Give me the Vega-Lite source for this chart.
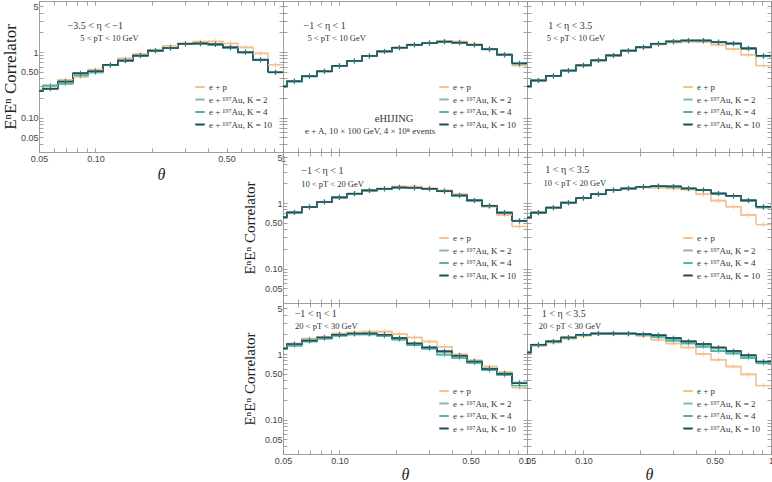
{
  "$schema": "https://vega.github.io/schema/vega-lite/v6.json",
  "padding": {"left": 0, "top": 0, "right": 0, "bottom": 0},
  "autosize": {"type": "pad"},
  "background": "white",
  "datasets": {
    "bins": [
      {"b": 0, "lo": 0.04365, "hi": 0.05248, "c": 0.04786},
      {"b": 1, "lo": 0.05248, "hi": 0.0631, "c": 0.05754},
      {"b": 2, "lo": 0.0631, "hi": 0.07586, "c": 0.06918},
      {"b": 3, "lo": 0.07586, "hi": 0.0912, "c": 0.08318},
      {"b": 4, "lo": 0.0912, "hi": 0.10965, "c": 0.1},
      {"b": 5, "lo": 0.10965, "hi": 0.13183, "c": 0.12023},
      {"b": 6, "lo": 0.13183, "hi": 0.15849, "c": 0.14454},
      {"b": 7, "lo": 0.15849, "hi": 0.19055, "c": 0.17378},
      {"b": 8, "lo": 0.19055, "hi": 0.22909, "c": 0.20893},
      {"b": 9, "lo": 0.22909, "hi": 0.27542, "c": 0.25119},
      {"b": 10, "lo": 0.27542, "hi": 0.33113, "c": 0.302},
      {"b": 11, "lo": 0.33113, "hi": 0.39811, "c": 0.36308},
      {"b": 12, "lo": 0.39811, "hi": 0.47863, "c": 0.43652},
      {"b": 13, "lo": 0.47863, "hi": 0.57544, "c": 0.52481},
      {"b": 14, "lo": 0.57544, "hi": 0.69183, "c": 0.63096},
      {"b": 15, "lo": 0.69183, "hi": 0.83176, "c": 0.75858},
      {"b": 16, "lo": 0.83176, "hi": 1.0, "c": 0.91201}
    ],
    "hist": [
      {"p": "a", "b": 0, "ep": 0.26, "k2": 0.26, "k4": 0.26, "k10": 0.254},
      {"p": "a", "b": 1, "ep": 0.31, "k2": 0.30, "k4": 0.31, "k10": 0.276},
      {"p": "a", "b": 2, "ep": 0.378, "k2": 0.34, "k4": 0.33, "k10": 0.356},
      {"p": "a", "b": 3, "ep": 0.42, "k2": 0.45, "k4": 0.44, "k10": 0.476},
      {"p": "a", "b": 4, "ep": 0.54, "k2": 0.50, "k4": 0.49, "k10": 0.51},
      {"p": "a", "b": 5, "ep": 0.64, "k2": 0.63, "k4": 0.63, "k10": 0.638},
      {"p": "a", "b": 6, "ep": 0.80, "k2": 0.74, "k4": 0.74, "k10": 0.741},
      {"p": "a", "b": 7, "ep": 0.935, "k2": 0.89, "k4": 0.88, "k10": 0.882},
      {"p": "a", "b": 8, "ep": 1.076, "k2": 1.06, "k4": 1.05, "k10": 1.05},
      {"p": "a", "b": 9, "ep": 1.25, "k2": 1.16, "k4": 1.15, "k10": 1.153},
      {"p": "a", "b": 10, "ep": 1.37, "k2": 1.32, "k4": 1.33, "k10": 1.33},
      {"p": "a", "b": 11, "ep": 1.44, "k2": 1.34, "k4": 1.33, "k10": 1.355},
      {"p": "a", "b": 12, "ep": 1.45, "k2": 1.31, "k4": 1.30, "k10": 1.31},
      {"p": "a", "b": 13, "ep": 1.35, "k2": 1.16, "k4": 1.15, "k10": 1.18},
      {"p": "a", "b": 14, "ep": 1.18, "k2": 1.0, "k4": 1.01, "k10": 0.99},
      {"p": "a", "b": 15, "ep": 0.955, "k2": 0.77, "k4": 0.76, "k10": 0.76},
      {"p": "a", "b": 16, "ep": 0.64, "k2": 0.49, "k4": 0.49, "k10": 0.493},
      {"p": "b", "b": 0, "ep": 0.30, "k2": 0.30, "k4": 0.30, "k10": 0.30},
      {"p": "b", "b": 1, "ep": 0.36, "k2": 0.36, "k4": 0.355, "k10": 0.36},
      {"p": "b", "b": 2, "ep": 0.43, "k2": 0.43, "k4": 0.425, "k10": 0.43},
      {"p": "b", "b": 3, "ep": 0.51, "k2": 0.51, "k4": 0.505, "k10": 0.51},
      {"p": "b", "b": 4, "ep": 0.62, "k2": 0.615, "k4": 0.61, "k10": 0.616},
      {"p": "b", "b": 5, "ep": 0.73, "k2": 0.73, "k4": 0.725, "k10": 0.733},
      {"p": "b", "b": 6, "ep": 0.87, "k2": 0.87, "k4": 0.865, "k10": 0.873},
      {"p": "b", "b": 7, "ep": 1.02, "k2": 1.02, "k4": 1.02, "k10": 1.025},
      {"p": "b", "b": 8, "ep": 1.17, "k2": 1.165, "k4": 1.16, "k10": 1.166},
      {"p": "b", "b": 9, "ep": 1.30, "k2": 1.29, "k4": 1.28, "k10": 1.29},
      {"p": "b", "b": 10, "ep": 1.39, "k2": 1.37, "k4": 1.37, "k10": 1.37},
      {"p": "b", "b": 11, "ep": 1.47, "k2": 1.44, "k4": 1.43, "k10": 1.44},
      {"p": "b", "b": 12, "ep": 1.44, "k2": 1.40, "k4": 1.39, "k10": 1.39},
      {"p": "b", "b": 13, "ep": 1.31, "k2": 1.29, "k4": 1.28, "k10": 1.29},
      {"p": "b", "b": 14, "ep": 1.12, "k2": 1.11, "k4": 1.10, "k10": 1.11},
      {"p": "b", "b": 15, "ep": 0.92, "k2": 0.91, "k4": 0.90, "k10": 0.913},
      {"p": "b", "b": 16, "ep": 0.62, "k2": 0.67, "k4": 0.66, "k10": 0.675},
      {"p": "c", "b": 0, "ep": 0.30, "k2": 0.30, "k4": 0.30, "k10": 0.30},
      {"p": "c", "b": 1, "ep": 0.37, "k2": 0.37, "k4": 0.37, "k10": 0.369},
      {"p": "c", "b": 2, "ep": 0.43, "k2": 0.434, "k4": 0.43, "k10": 0.434},
      {"p": "c", "b": 3, "ep": 0.52, "k2": 0.52, "k4": 0.52, "k10": 0.523},
      {"p": "c", "b": 4, "ep": 0.62, "k2": 0.63, "k4": 0.625, "k10": 0.629},
      {"p": "c", "b": 5, "ep": 0.74, "k2": 0.75, "k4": 0.745, "k10": 0.749},
      {"p": "c", "b": 6, "ep": 0.88, "k2": 0.89, "k4": 0.885, "k10": 0.89},
      {"p": "c", "b": 7, "ep": 1.03, "k2": 1.05, "k4": 1.04, "k10": 1.05},
      {"p": "c", "b": 8, "ep": 1.17, "k2": 1.19, "k4": 1.18, "k10": 1.19},
      {"p": "c", "b": 9, "ep": 1.31, "k2": 1.34, "k4": 1.33, "k10": 1.34},
      {"p": "c", "b": 10, "ep": 1.40, "k2": 1.45, "k4": 1.44, "k10": 1.45},
      {"p": "c", "b": 11, "ep": 1.44, "k2": 1.50, "k4": 1.49, "k10": 1.50},
      {"p": "c", "b": 12, "ep": 1.42, "k2": 1.50, "k4": 1.49, "k10": 1.50},
      {"p": "c", "b": 13, "ep": 1.30, "k2": 1.42, "k4": 1.41, "k10": 1.42},
      {"p": "c", "b": 14, "ep": 1.11, "k2": 1.35, "k4": 1.34, "k10": 1.35},
      {"p": "c", "b": 15, "ep": 0.91, "k2": 1.14, "k4": 1.13, "k10": 1.14},
      {"p": "c", "b": 16, "ep": 0.62, "k2": 0.87, "k4": 0.86, "k10": 0.88},
      {"p": "d", "b": 0, "ep": 0.61, "k2": 0.61, "k4": 0.61, "k10": 0.61},
      {"p": "d", "b": 1, "ep": 0.72, "k2": 0.72, "k4": 0.72, "k10": 0.72},
      {"p": "d", "b": 2, "ep": 0.87, "k2": 0.87, "k4": 0.87, "k10": 0.87},
      {"p": "d", "b": 3, "ep": 1.04, "k2": 1.04, "k4": 1.04, "k10": 1.04},
      {"p": "d", "b": 4, "ep": 1.22, "k2": 1.22, "k4": 1.22, "k10": 1.22},
      {"p": "d", "b": 5, "ep": 1.39, "k2": 1.39, "k4": 1.38, "k10": 1.39},
      {"p": "d", "b": 6, "ep": 1.56, "k2": 1.56, "k4": 1.55, "k10": 1.56},
      {"p": "d", "b": 7, "ep": 1.67, "k2": 1.65, "k4": 1.64, "k10": 1.65},
      {"p": "d", "b": 8, "ep": 1.79, "k2": 1.73, "k4": 1.72, "k10": 1.73},
      {"p": "d", "b": 9, "ep": 1.79, "k2": 1.71, "k4": 1.70, "k10": 1.71},
      {"p": "d", "b": 10, "ep": 1.68, "k2": 1.65, "k4": 1.64, "k10": 1.65},
      {"p": "d", "b": 11, "ep": 1.56, "k2": 1.52, "k4": 1.51, "k10": 1.52},
      {"p": "d", "b": 12, "ep": 1.36, "k2": 1.31, "k4": 1.30, "k10": 1.31},
      {"p": "d", "b": 13, "ep": 1.08, "k2": 1.10, "k4": 1.09, "k10": 1.10},
      {"p": "d", "b": 14, "ep": 0.88, "k2": 0.91, "k4": 0.90, "k10": 0.91},
      {"p": "d", "b": 15, "ep": 0.66, "k2": 0.72, "k4": 0.71, "k10": 0.715},
      {"p": "d", "b": 16, "ep": 0.44, "k2": 0.54, "k4": 0.53, "k10": 0.535},
      {"p": "e", "b": 0, "ep": 0.60, "k2": 0.60, "k4": 0.60, "k10": 0.601},
      {"p": "e", "b": 1, "ep": 0.715, "k2": 0.715, "k4": 0.71, "k10": 0.715},
      {"p": "e", "b": 2, "ep": 0.85, "k2": 0.85, "k4": 0.85, "k10": 0.852},
      {"p": "e", "b": 3, "ep": 1.01, "k2": 1.01, "k4": 1.01, "k10": 1.014},
      {"p": "e", "b": 4, "ep": 1.19, "k2": 1.19, "k4": 1.19, "k10": 1.195},
      {"p": "e", "b": 5, "ep": 1.37, "k2": 1.37, "k4": 1.36, "k10": 1.37},
      {"p": "e", "b": 6, "ep": 1.57, "k2": 1.58, "k4": 1.57, "k10": 1.58},
      {"p": "e", "b": 7, "ep": 1.66, "k2": 1.67, "k4": 1.66, "k10": 1.67},
      {"p": "e", "b": 8, "ep": 1.73, "k2": 1.77, "k4": 1.76, "k10": 1.77},
      {"p": "e", "b": 9, "ep": 1.71, "k2": 1.81, "k4": 1.80, "k10": 1.81},
      {"p": "e", "b": 10, "ep": 1.67, "k2": 1.79, "k4": 1.78, "k10": 1.79},
      {"p": "e", "b": 11, "ep": 1.61, "k2": 1.67, "k4": 1.66, "k10": 1.67},
      {"p": "e", "b": 12, "ep": 1.36, "k2": 1.58, "k4": 1.57, "k10": 1.58},
      {"p": "e", "b": 13, "ep": 1.09, "k2": 1.40, "k4": 1.39, "k10": 1.40},
      {"p": "e", "b": 14, "ep": 0.88, "k2": 1.29, "k4": 1.28, "k10": 1.29},
      {"p": "e", "b": 15, "ep": 0.66, "k2": 1.10, "k4": 1.08, "k10": 1.10},
      {"p": "e", "b": 16, "ep": 0.47, "k2": 0.87, "k4": 0.85, "k10": 0.88},
      {"p": "f", "b": 0, "ep": 1.25, "k2": 1.22, "k4": 1.20, "k10": 1.22},
      {"p": "f", "b": 1, "ep": 1.45, "k2": 1.40, "k4": 1.34, "k10": 1.42},
      {"p": "f", "b": 2, "ep": 1.72, "k2": 1.68, "k4": 1.55, "k10": 1.60},
      {"p": "f", "b": 3, "ep": 1.83, "k2": 1.78, "k4": 1.72, "k10": 1.79},
      {"p": "f", "b": 4, "ep": 2.06, "k2": 1.96, "k4": 1.90, "k10": 1.97},
      {"p": "f", "b": 5, "ep": 2.13, "k2": 2.04, "k4": 1.99, "k10": 2.06},
      {"p": "f", "b": 6, "ep": 2.20, "k2": 2.04, "k4": 1.99, "k10": 2.06},
      {"p": "f", "b": 7, "ep": 2.20, "k2": 1.95, "k4": 1.88, "k10": 1.97},
      {"p": "f", "b": 8, "ep": 2.01, "k2": 1.74, "k4": 1.66, "k10": 1.75},
      {"p": "f", "b": 9, "ep": 1.79, "k2": 1.44, "k4": 1.37, "k10": 1.45},
      {"p": "f", "b": 10, "ep": 1.55, "k2": 1.26, "k4": 1.21, "k10": 1.26},
      {"p": "f", "b": 11, "ep": 1.29, "k2": 1.09, "k4": 0.98, "k10": 1.10},
      {"p": "f", "b": 12, "ep": 0.99, "k2": 0.94, "k4": 0.87, "k10": 0.945},
      {"p": "f", "b": 13, "ep": 0.80, "k2": 0.77, "k4": 0.73, "k10": 0.77},
      {"p": "f", "b": 14, "ep": 0.645, "k2": 0.60, "k4": 0.57, "k10": 0.595},
      {"p": "f", "b": 15, "ep": 0.53, "k2": 0.51, "k4": 0.48, "k10": 0.50},
      {"p": "f", "b": 16, "ep": 0.306, "k2": 0.37, "k4": 0.33, "k10": 0.36},
      {"p": "g", "b": 0, "ep": 1.06, "k2": 1.06, "k4": 1.06, "k10": 1.06},
      {"p": "g", "b": 1, "ep": 1.34, "k2": 1.38, "k4": 1.36, "k10": 1.39},
      {"p": "g", "b": 2, "ep": 1.50, "k2": 1.55, "k4": 1.54, "k10": 1.56},
      {"p": "g", "b": 3, "ep": 1.72, "k2": 1.78, "k4": 1.77, "k10": 1.79},
      {"p": "g", "b": 4, "ep": 1.90, "k2": 1.96, "k4": 1.95, "k10": 1.97},
      {"p": "g", "b": 5, "ep": 2.06, "k2": 2.05, "k4": 2.04, "k10": 2.06},
      {"p": "g", "b": 6, "ep": 2.06, "k2": 2.05, "k4": 2.04, "k10": 2.06},
      {"p": "g", "b": 7, "ep": 2.01, "k2": 2.05, "k4": 2.03, "k10": 2.06},
      {"p": "g", "b": 8, "ep": 1.89, "k2": 1.99, "k4": 1.95, "k10": 2.01},
      {"p": "g", "b": 9, "ep": 1.66, "k2": 1.90, "k4": 1.83, "k10": 1.94},
      {"p": "g", "b": 10, "ep": 1.45, "k2": 1.70, "k4": 1.60, "k10": 1.75},
      {"p": "g", "b": 11, "ep": 1.26, "k2": 1.52, "k4": 1.45, "k10": 1.56},
      {"p": "g", "b": 12, "ep": 1.0, "k2": 1.38, "k4": 1.29, "k10": 1.42},
      {"p": "g", "b": 13, "ep": 0.82, "k2": 1.22, "k4": 1.11, "k10": 1.26},
      {"p": "g", "b": 14, "ep": 0.645, "k2": 1.08, "k4": 1.02, "k10": 1.11},
      {"p": "g", "b": 15, "ep": 0.49, "k2": 0.93, "k4": 0.87, "k10": 0.96},
      {"p": "g", "b": 16, "ep": 0.33, "k2": 0.75, "k4": 0.72, "k10": 0.77}
    ],
    "ann": [
      {"p": "a", "k": "eta", "x": 0.0711, "y": 2.51, "t": "−3.5 < η < −1"},
      {"p": "a", "k": "pt", "x": 0.083, "y": 1.63, "t": "5 < pT < 10 GeV"},
      {"p": "b", "k": "eta", "x": 0.0644, "y": 2.51, "t": "−1 < η < 1"},
      {"p": "b", "k": "pt", "x": 0.0676, "y": 1.63, "t": "5 < pT < 10 GeV"},
      {"p": "b", "k": "h1", "x": 0.1955, "y": 0.097, "t": "eHIJING"},
      {"p": "b", "k": "h2", "x": 0.1456, "y": 0.0624, "t": "e + A,  10 × 100 GeV,  4 × 10⁸ events"},
      {"p": "c", "k": "eta", "x": 0.0649, "y": 2.51, "t": "1 < η < 3.5"},
      {"p": "c", "k": "pt", "x": 0.0638, "y": 1.63, "t": "5 < pT < 10 GeV"},
      {"p": "d", "k": "eta", "x": 0.0626, "y": 3.1, "t": "−1 < η < 1"},
      {"p": "d", "k": "pt", "x": 0.0626, "y": 1.95, "t": "10 < pT < 20 GeV"},
      {"p": "e", "k": "eta", "x": 0.0626, "y": 3.17, "t": "1 < η < 3.5"},
      {"p": "e", "k": "pt", "x": 0.0613, "y": 1.99, "t": "10 < pT < 20 GeV"},
      {"p": "f", "k": "eta", "x": 0.0577, "y": 4.05, "t": "−1 < η < 1"},
      {"p": "f", "k": "pt", "x": 0.058, "y": 2.69, "t": "20 < pT < 30 GeV"},
      {"p": "g", "k": "eta", "x": 0.06, "y": 4.05, "t": "1 < η < 3.5"},
      {"p": "g", "k": "pt", "x": 0.0577, "y": 2.69, "t": "20 < pT < 30 GeV"}
    ]
  },
  "columns": 3,
  "spacing": 0,
  "bounds": "flush",
  "resolve": {"scale": {"color": "independent"}, "legend": {"color": "independent"}},
  "concat": [
    {
      "width": 244, "height": 151,
      "data": {"name": "hist"},
      "transform": [
        {"filter": "datum.p == 'a'"},
        {"lookup": "b", "from": {"data": {"name": "bins"}, "key": "b", "fields": ["lo", "hi", "c"]}},
        {"fold": ["ep", "k2", "k4", "k10"], "as": ["s", "v"]}
      ],
      "layer": [
        {
          "mark": {"type": "line", "interpolate": "step-after", "clip": true, "strokeWidth": 1.6},
          "encoding": {
            "x": {"field": "lo", "type": "quantitative", "scale": {"type": "log", "domain": [0.05, 1], "nice": false},
              "axis": {"orient": "bottom", "values": [0.05, 0.06, 0.07, 0.08, 0.09, 0.1, 0.2, 0.3, 0.4, 0.5, 0.6, 0.7, 0.8, 0.9, 1], "labelExpr": "datum.value == 1 ? '1' : (datum.value == 0.05 || datum.value == 0.1 || datum.value == 0.5) ? format(datum.value, '.2f') : ''", "labelFlush": false, "labelOverlap": false, "title": "θ", "titleFontStyle": "italic", "titlePadding": 3}},
            "y": {"field": "v", "type": "quantitative", "scale": {"type": "log", "domain": [0.03, 6], "nice": false},
              "axis": {"orient": "left", "values": [0.04, 0.05, 0.06, 0.07, 0.08, 0.09, 0.1, 0.2, 0.3, 0.4, 0.5, 0.6, 0.7, 0.8, 0.9, 1, 2, 3, 4, 5], "labelExpr": "datum.value == 5 ? '5' : datum.value == 1 ? '1' : (datum.value == 0.05 || datum.value == 0.1 || datum.value == 0.5) ? format(datum.value, '.2f') : ''", "labelOverlap": false, "labelPadding": 5, "title": "EⁿEⁿ Correlator", "titleFontSize": 17, "titlePadding": 1}},
            "color": {"field": "s", "type": "nominal", "scale": {"domain": ["ep", "k2", "k4", "k10"], "range": ["#f2c28f", "#8fb89f", "#4db6a6", "#1e4d5c"]},
              "legend": {"title": null, "legendX": 155, "legendY": 80, "labelExpr": "datum.label == 'ep' ? 'e + p' : datum.label == 'k2' ? 'e + ¹⁹⁷Au, K = 2' : datum.label == 'k4' ? 'e + ¹⁹⁷Au, K = 4' : 'e + ¹⁹⁷Au, K = 10'"}}
          }
        },
        {
          "mark": {"type": "rule", "clip": true, "strokeWidth": 1.6},
          "encoding": {
            "x": {"field": "lo", "type": "quantitative", "axis": {"orient": "top", "values": [0.05, 0.06, 0.07, 0.08, 0.09, 0.1, 0.2, 0.3, 0.4, 0.5, 0.6, 0.7, 0.8, 0.9, 1], "labels": false, "title": null}},
            "x2": {"field": "hi"},
            "y": {"field": "v", "type": "quantitative", "axis": {"orient": "right", "values": [0.04, 0.05, 0.06, 0.07, 0.08, 0.09, 0.1, 0.2, 0.3, 0.4, 0.5, 0.6, 0.7, 0.8, 0.9, 1, 2, 3, 4, 5], "labels": false, "title": null}},
            "color": {"field": "s", "type": "nominal", "legend": null}
          }
        },
        {
          "mark": {"type": "tick", "orient": "vertical", "clip": true, "size": 5, "thickness": 1.2},
          "encoding": {
            "x": {"field": "c", "type": "quantitative", "axis": null},
            "y": {"field": "v", "type": "quantitative", "axis": null},
            "color": {"field": "s", "type": "nominal", "legend": null}
          }
        },
        {
          "data": {"name": "ann"},
          "transform": [{"filter": "datum.p == 'a' && datum.k == 'eta'"}],
          "mark": {"type": "text", "align": "left", "baseline": "middle", "fontSize": 10, "color": "#333"},
          "encoding": {"x": {"field": "x", "type": "quantitative", "axis": null}, "y": {"field": "y", "type": "quantitative", "axis": null}, "text": {"field": "t"}}
        },
        {
          "data": {"name": "ann"},
          "transform": [{"filter": "datum.p == 'a' && datum.k == 'pt'"}],
          "mark": {"type": "text", "align": "left", "baseline": "middle", "fontSize": 8.5, "color": "#333"},
          "encoding": {"x": {"field": "x", "type": "quantitative", "axis": null}, "y": {"field": "y", "type": "quantitative", "axis": null}, "text": {"field": "t"}}
        }
      ],
      "resolve": {"axis": {"x": "independent", "y": "independent"}}
    },
    {
      "width": 244, "height": 151,
      "data": {"name": "hist"},
      "transform": [
        {"filter": "datum.p == 'b'"},
        {"lookup": "b", "from": {"data": {"name": "bins"}, "key": "b", "fields": ["lo", "hi", "c"]}},
        {"fold": ["ep", "k2", "k4", "k10"], "as": ["s", "v"]}
      ],
      "layer": [
        {
          "mark": {"type": "line", "interpolate": "step-after", "clip": true, "strokeWidth": 1.6},
          "encoding": {
            "x": {"field": "lo", "type": "quantitative", "scale": {"type": "log", "domain": [0.05, 1], "nice": false},
              "axis": {"orient": "bottom", "values": [0.05, 0.06, 0.07, 0.08, 0.09, 0.1, 0.2, 0.3, 0.4, 0.5, 0.6, 0.7, 0.8, 0.9, 1], "labels": false, "title": null}},
            "y": {"field": "v", "type": "quantitative", "scale": {"type": "log", "domain": [0.03, 6], "nice": false},
              "axis": {"orient": "left", "values": [0.04, 0.05, 0.06, 0.07, 0.08, 0.09, 0.1, 0.2, 0.3, 0.4, 0.5, 0.6, 0.7, 0.8, 0.9, 1, 2, 3, 4, 5], "labels": false, "title": null}},
            "color": {"field": "s", "type": "nominal", "scale": {"domain": ["ep", "k2", "k4", "k10"], "range": ["#f2c28f", "#8fb89f", "#4db6a6", "#1e4d5c"]},
              "legend": {"title": null, "legendX": 155, "legendY": 80, "labelExpr": "datum.label == 'ep' ? 'e + p' : datum.label == 'k2' ? 'e + ¹⁹⁷Au, K = 2' : datum.label == 'k4' ? 'e + ¹⁹⁷Au, K = 4' : 'e + ¹⁹⁷Au, K = 10'"}}
          }
        },
        {
          "mark": {"type": "rule", "clip": true, "strokeWidth": 1.6},
          "encoding": {
            "x": {"field": "lo", "type": "quantitative", "axis": {"orient": "top", "values": [0.05, 0.06, 0.07, 0.08, 0.09, 0.1, 0.2, 0.3, 0.4, 0.5, 0.6, 0.7, 0.8, 0.9, 1], "labels": false, "title": null}},
            "x2": {"field": "hi"},
            "y": {"field": "v", "type": "quantitative", "axis": {"orient": "right", "values": [0.04, 0.05, 0.06, 0.07, 0.08, 0.09, 0.1, 0.2, 0.3, 0.4, 0.5, 0.6, 0.7, 0.8, 0.9, 1, 2, 3, 4, 5], "labels": false, "title": null}},
            "color": {"field": "s", "type": "nominal", "legend": null}
          }
        },
        {
          "mark": {"type": "tick", "orient": "vertical", "clip": true, "size": 5, "thickness": 1.2},
          "encoding": {
            "x": {"field": "c", "type": "quantitative", "axis": null},
            "y": {"field": "v", "type": "quantitative", "axis": null},
            "color": {"field": "s", "type": "nominal", "legend": null}
          }
        },
        {
          "data": {"name": "ann"},
          "transform": [{"filter": "datum.p == 'b' && datum.k == 'eta'"}],
          "mark": {"type": "text", "align": "left", "baseline": "middle", "fontSize": 10, "color": "#333"},
          "encoding": {"x": {"field": "x", "type": "quantitative", "axis": null}, "y": {"field": "y", "type": "quantitative", "axis": null}, "text": {"field": "t"}}
        },
        {
          "data": {"name": "ann"},
          "transform": [{"filter": "datum.p == 'b' && datum.k == 'pt'"}],
          "mark": {"type": "text", "align": "left", "baseline": "middle", "fontSize": 8.5, "color": "#333"},
          "encoding": {"x": {"field": "x", "type": "quantitative", "axis": null}, "y": {"field": "y", "type": "quantitative", "axis": null}, "text": {"field": "t"}}
        },
        {
          "data": {"name": "ann"},
          "transform": [{"filter": "datum.p == 'b' && datum.k == 'h1'"}],
          "mark": {"type": "text", "align": "center", "baseline": "middle", "fontSize": 10.5, "color": "#333"},
          "encoding": {"x": {"field": "x", "type": "quantitative", "axis": null}, "y": {"field": "y", "type": "quantitative", "axis": null}, "text": {"field": "t"}}
        },
        {
          "data": {"name": "ann"},
          "transform": [{"filter": "datum.p == 'b' && datum.k == 'h2'"}],
          "mark": {"type": "text", "align": "center", "baseline": "middle", "fontSize": 9, "color": "#333"},
          "encoding": {"x": {"field": "x", "type": "quantitative", "axis": null}, "y": {"field": "y", "type": "quantitative", "axis": null}, "text": {"field": "t"}}
        }
      ],
      "resolve": {"axis": {"x": "independent", "y": "independent"}}
    },
    {
      "width": 244, "height": 151,
      "data": {"name": "hist"},
      "transform": [
        {"filter": "datum.p == 'c'"},
        {"lookup": "b", "from": {"data": {"name": "bins"}, "key": "b", "fields": ["lo", "hi", "c"]}},
        {"fold": ["ep", "k2", "k4", "k10"], "as": ["s", "v"]}
      ],
      "layer": [
        {
          "mark": {"type": "line", "interpolate": "step-after", "clip": true, "strokeWidth": 1.6},
          "encoding": {
            "x": {"field": "lo", "type": "quantitative", "scale": {"type": "log", "domain": [0.05, 1], "nice": false},
              "axis": {"orient": "bottom", "values": [0.05, 0.06, 0.07, 0.08, 0.09, 0.1, 0.2, 0.3, 0.4, 0.5, 0.6, 0.7, 0.8, 0.9, 1], "labels": false, "title": null}},
            "y": {"field": "v", "type": "quantitative", "scale": {"type": "log", "domain": [0.03, 6], "nice": false},
              "axis": {"orient": "left", "values": [0.04, 0.05, 0.06, 0.07, 0.08, 0.09, 0.1, 0.2, 0.3, 0.4, 0.5, 0.6, 0.7, 0.8, 0.9, 1, 2, 3, 4, 5], "labels": false, "title": null}},
            "color": {"field": "s", "type": "nominal", "scale": {"domain": ["ep", "k2", "k4", "k10"], "range": ["#f2c28f", "#8fb89f", "#4db6a6", "#1e4d5c"]},
              "legend": {"title": null, "legendX": 155, "legendY": 80, "labelExpr": "datum.label == 'ep' ? 'e + p' : datum.label == 'k2' ? 'e + ¹⁹⁷Au, K = 2' : datum.label == 'k4' ? 'e + ¹⁹⁷Au, K = 4' : 'e + ¹⁹⁷Au, K = 10'"}}
          }
        },
        {
          "mark": {"type": "rule", "clip": true, "strokeWidth": 1.6},
          "encoding": {
            "x": {"field": "lo", "type": "quantitative", "axis": {"orient": "top", "values": [0.05, 0.06, 0.07, 0.08, 0.09, 0.1, 0.2, 0.3, 0.4, 0.5, 0.6, 0.7, 0.8, 0.9, 1], "labels": false, "title": null}},
            "x2": {"field": "hi"},
            "y": {"field": "v", "type": "quantitative", "axis": {"orient": "right", "values": [0.04, 0.05, 0.06, 0.07, 0.08, 0.09, 0.1, 0.2, 0.3, 0.4, 0.5, 0.6, 0.7, 0.8, 0.9, 1, 2, 3, 4, 5], "labels": false, "title": null}},
            "color": {"field": "s", "type": "nominal", "legend": null}
          }
        },
        {
          "mark": {"type": "tick", "orient": "vertical", "clip": true, "size": 5, "thickness": 1.2},
          "encoding": {
            "x": {"field": "c", "type": "quantitative", "axis": null},
            "y": {"field": "v", "type": "quantitative", "axis": null},
            "color": {"field": "s", "type": "nominal", "legend": null}
          }
        },
        {
          "data": {"name": "ann"},
          "transform": [{"filter": "datum.p == 'c' && datum.k == 'eta'"}],
          "mark": {"type": "text", "align": "left", "baseline": "middle", "fontSize": 10, "color": "#333"},
          "encoding": {"x": {"field": "x", "type": "quantitative", "axis": null}, "y": {"field": "y", "type": "quantitative", "axis": null}, "text": {"field": "t"}}
        },
        {
          "data": {"name": "ann"},
          "transform": [{"filter": "datum.p == 'c' && datum.k == 'pt'"}],
          "mark": {"type": "text", "align": "left", "baseline": "middle", "fontSize": 8.5, "color": "#333"},
          "encoding": {"x": {"field": "x", "type": "quantitative", "axis": null}, "y": {"field": "y", "type": "quantitative", "axis": null}, "text": {"field": "t"}}
        }
      ],
      "resolve": {"axis": {"x": "independent", "y": "independent"}}
    },
    {"width": 244, "height": 151, "data": {"values": [{"z": 0}]}, "mark": {"type": "text", "text": ""}, "view": {"stroke": null}},
    {
      "width": 244, "height": 151,
      "data": {"name": "hist"},
      "transform": [
        {"filter": "datum.p == 'd'"},
        {"lookup": "b", "from": {"data": {"name": "bins"}, "key": "b", "fields": ["lo", "hi", "c"]}},
        {"fold": ["ep", "k2", "k4", "k10"], "as": ["s", "v"]}
      ],
      "layer": [
        {
          "mark": {"type": "line", "interpolate": "step-after", "clip": true, "strokeWidth": 1.6},
          "encoding": {
            "x": {"field": "lo", "type": "quantitative", "scale": {"type": "log", "domain": [0.05, 1], "nice": false},
              "axis": {"orient": "bottom", "values": [0.05, 0.06, 0.07, 0.08, 0.09, 0.1, 0.2, 0.3, 0.4, 0.5, 0.6, 0.7, 0.8, 0.9, 1], "labels": false, "title": null}},
            "y": {"field": "v", "type": "quantitative", "scale": {"type": "log", "domain": [0.03, 6], "nice": false},
              "axis": {"orient": "left", "values": [0.04, 0.05, 0.06, 0.07, 0.08, 0.09, 0.1, 0.2, 0.3, 0.4, 0.5, 0.6, 0.7, 0.8, 0.9, 1, 2, 3, 4, 5], "labelExpr": "datum.value == 5 ? '5' : datum.value == 1 ? '1' : (datum.value == 0.05 || datum.value == 0.1 || datum.value == 0.5) ? format(datum.value, '.2f') : ''", "labelOverlap": false, "labelPadding": 5, "title": "EⁿEⁿ Correlator", "titleFontSize": 15, "titlePadding": 7}},
            "color": {"field": "s", "type": "nominal", "scale": {"domain": ["ep", "k2", "k4", "k10"], "range": ["#f2c28f", "#8fb89f", "#4db6a6", "#1e4d5c"]},
              "legend": {"title": null, "legendX": 155, "legendY": 80, "labelExpr": "datum.label == 'ep' ? 'e + p' : datum.label == 'k2' ? 'e + ¹⁹⁷Au, K = 2' : datum.label == 'k4' ? 'e + ¹⁹⁷Au, K = 4' : 'e + ¹⁹⁷Au, K = 10'"}}
          }
        },
        {
          "mark": {"type": "rule", "clip": true, "strokeWidth": 1.6},
          "encoding": {
            "x": {"field": "lo", "type": "quantitative", "axis": {"orient": "top", "values": [0.05, 0.06, 0.07, 0.08, 0.09, 0.1, 0.2, 0.3, 0.4, 0.5, 0.6, 0.7, 0.8, 0.9, 1], "labels": false, "title": null}},
            "x2": {"field": "hi"},
            "y": {"field": "v", "type": "quantitative", "axis": {"orient": "right", "values": [0.04, 0.05, 0.06, 0.07, 0.08, 0.09, 0.1, 0.2, 0.3, 0.4, 0.5, 0.6, 0.7, 0.8, 0.9, 1, 2, 3, 4, 5], "labels": false, "title": null}},
            "color": {"field": "s", "type": "nominal", "legend": null}
          }
        },
        {
          "mark": {"type": "tick", "orient": "vertical", "clip": true, "size": 5, "thickness": 1.2},
          "encoding": {
            "x": {"field": "c", "type": "quantitative", "axis": null},
            "y": {"field": "v", "type": "quantitative", "axis": null},
            "color": {"field": "s", "type": "nominal", "legend": null}
          }
        },
        {
          "data": {"name": "ann"},
          "transform": [{"filter": "datum.p == 'd' && datum.k == 'eta'"}],
          "mark": {"type": "text", "align": "left", "baseline": "middle", "fontSize": 10, "color": "#333"},
          "encoding": {"x": {"field": "x", "type": "quantitative", "axis": null}, "y": {"field": "y", "type": "quantitative", "axis": null}, "text": {"field": "t"}}
        },
        {
          "data": {"name": "ann"},
          "transform": [{"filter": "datum.p == 'd' && datum.k == 'pt'"}],
          "mark": {"type": "text", "align": "left", "baseline": "middle", "fontSize": 8.5, "color": "#333"},
          "encoding": {"x": {"field": "x", "type": "quantitative", "axis": null}, "y": {"field": "y", "type": "quantitative", "axis": null}, "text": {"field": "t"}}
        }
      ],
      "resolve": {"axis": {"x": "independent", "y": "independent"}}
    },
    {
      "width": 244, "height": 151,
      "data": {"name": "hist"},
      "transform": [
        {"filter": "datum.p == 'e'"},
        {"lookup": "b", "from": {"data": {"name": "bins"}, "key": "b", "fields": ["lo", "hi", "c"]}},
        {"fold": ["ep", "k2", "k4", "k10"], "as": ["s", "v"]}
      ],
      "layer": [
        {
          "mark": {"type": "line", "interpolate": "step-after", "clip": true, "strokeWidth": 1.6},
          "encoding": {
            "x": {"field": "lo", "type": "quantitative", "scale": {"type": "log", "domain": [0.05, 1], "nice": false},
              "axis": {"orient": "bottom", "values": [0.05, 0.06, 0.07, 0.08, 0.09, 0.1, 0.2, 0.3, 0.4, 0.5, 0.6, 0.7, 0.8, 0.9, 1], "labels": false, "title": null}},
            "y": {"field": "v", "type": "quantitative", "scale": {"type": "log", "domain": [0.03, 6], "nice": false},
              "axis": {"orient": "left", "values": [0.04, 0.05, 0.06, 0.07, 0.08, 0.09, 0.1, 0.2, 0.3, 0.4, 0.5, 0.6, 0.7, 0.8, 0.9, 1, 2, 3, 4, 5], "labels": false, "title": null}},
            "color": {"field": "s", "type": "nominal", "scale": {"domain": ["ep", "k2", "k4", "k10"], "range": ["#f2c28f", "#8fb89f", "#4db6a6", "#1e4d5c"]},
              "legend": {"title": null, "legendX": 155, "legendY": 80, "labelExpr": "datum.label == 'ep' ? 'e + p' : datum.label == 'k2' ? 'e + ¹⁹⁷Au, K = 2' : datum.label == 'k4' ? 'e + ¹⁹⁷Au, K = 4' : 'e + ¹⁹⁷Au, K = 10'"}}
          }
        },
        {
          "mark": {"type": "rule", "clip": true, "strokeWidth": 1.6},
          "encoding": {
            "x": {"field": "lo", "type": "quantitative", "axis": {"orient": "top", "values": [0.05, 0.06, 0.07, 0.08, 0.09, 0.1, 0.2, 0.3, 0.4, 0.5, 0.6, 0.7, 0.8, 0.9, 1], "labels": false, "title": null}},
            "x2": {"field": "hi"},
            "y": {"field": "v", "type": "quantitative", "axis": {"orient": "right", "values": [0.04, 0.05, 0.06, 0.07, 0.08, 0.09, 0.1, 0.2, 0.3, 0.4, 0.5, 0.6, 0.7, 0.8, 0.9, 1, 2, 3, 4, 5], "labels": false, "title": null}},
            "color": {"field": "s", "type": "nominal", "legend": null}
          }
        },
        {
          "mark": {"type": "tick", "orient": "vertical", "clip": true, "size": 5, "thickness": 1.2},
          "encoding": {
            "x": {"field": "c", "type": "quantitative", "axis": null},
            "y": {"field": "v", "type": "quantitative", "axis": null},
            "color": {"field": "s", "type": "nominal", "legend": null}
          }
        },
        {
          "data": {"name": "ann"},
          "transform": [{"filter": "datum.p == 'e' && datum.k == 'eta'"}],
          "mark": {"type": "text", "align": "left", "baseline": "middle", "fontSize": 10, "color": "#333"},
          "encoding": {"x": {"field": "x", "type": "quantitative", "axis": null}, "y": {"field": "y", "type": "quantitative", "axis": null}, "text": {"field": "t"}}
        },
        {
          "data": {"name": "ann"},
          "transform": [{"filter": "datum.p == 'e' && datum.k == 'pt'"}],
          "mark": {"type": "text", "align": "left", "baseline": "middle", "fontSize": 8.5, "color": "#333"},
          "encoding": {"x": {"field": "x", "type": "quantitative", "axis": null}, "y": {"field": "y", "type": "quantitative", "axis": null}, "text": {"field": "t"}}
        }
      ],
      "resolve": {"axis": {"x": "independent", "y": "independent"}}
    },
    {"width": 244, "height": 151, "data": {"values": [{"z": 0}]}, "mark": {"type": "text", "text": ""}, "view": {"stroke": null}},
    {
      "width": 244, "height": 151,
      "data": {"name": "hist"},
      "transform": [
        {"filter": "datum.p == 'f'"},
        {"lookup": "b", "from": {"data": {"name": "bins"}, "key": "b", "fields": ["lo", "hi", "c"]}},
        {"fold": ["ep", "k2", "k4", "k10"], "as": ["s", "v"]}
      ],
      "layer": [
        {
          "mark": {"type": "line", "interpolate": "step-after", "clip": true, "strokeWidth": 1.6},
          "encoding": {
            "x": {"field": "lo", "type": "quantitative", "scale": {"type": "log", "domain": [0.05, 1], "nice": false},
              "axis": {"orient": "bottom", "values": [0.05, 0.06, 0.07, 0.08, 0.09, 0.1, 0.2, 0.3, 0.4, 0.5, 0.6, 0.7, 0.8, 0.9, 1], "labelExpr": "datum.value == 1 ? '1' : (datum.value == 0.05 || datum.value == 0.1 || datum.value == 0.5) ? format(datum.value, '.2f') : ''", "labelFlush": false, "labelOverlap": false, "title": "θ", "titleFontStyle": "italic", "titlePadding": 1}},
            "y": {"field": "v", "type": "quantitative", "scale": {"type": "log", "domain": [0.03, 6], "nice": false},
              "axis": {"orient": "left", "values": [0.04, 0.05, 0.06, 0.07, 0.08, 0.09, 0.1, 0.2, 0.3, 0.4, 0.5, 0.6, 0.7, 0.8, 0.9, 1, 2, 3, 4, 5], "labelExpr": "datum.value == 5 ? '5' : datum.value == 1 ? '1' : (datum.value == 0.05 || datum.value == 0.1 || datum.value == 0.5) ? format(datum.value, '.2f') : ''", "labelOverlap": false, "labelPadding": 5, "title": "EⁿEⁿ Correlator", "titleFontSize": 15, "titlePadding": 7}},
            "color": {"field": "s", "type": "nominal", "scale": {"domain": ["ep", "k2", "k4", "k10"], "range": ["#f2c28f", "#8fb89f", "#4db6a6", "#1e4d5c"]},
              "legend": {"title": null, "legendX": 155, "legendY": 82, "labelExpr": "datum.label == 'ep' ? 'e + p' : datum.label == 'k2' ? 'e + ¹⁹⁷Au, K = 2' : datum.label == 'k4' ? 'e + ¹⁹⁷Au, K = 4' : 'e + ¹⁹⁷Au, K = 10'"}}
          }
        },
        {
          "mark": {"type": "rule", "clip": true, "strokeWidth": 1.6},
          "encoding": {
            "x": {"field": "lo", "type": "quantitative", "axis": {"orient": "top", "values": [0.05, 0.06, 0.07, 0.08, 0.09, 0.1, 0.2, 0.3, 0.4, 0.5, 0.6, 0.7, 0.8, 0.9, 1], "labels": false, "title": null}},
            "x2": {"field": "hi"},
            "y": {"field": "v", "type": "quantitative", "axis": {"orient": "right", "values": [0.04, 0.05, 0.06, 0.07, 0.08, 0.09, 0.1, 0.2, 0.3, 0.4, 0.5, 0.6, 0.7, 0.8, 0.9, 1, 2, 3, 4, 5], "labels": false, "title": null}},
            "color": {"field": "s", "type": "nominal", "legend": null}
          }
        },
        {
          "mark": {"type": "tick", "orient": "vertical", "clip": true, "size": 5, "thickness": 1.2},
          "encoding": {
            "x": {"field": "c", "type": "quantitative", "axis": null},
            "y": {"field": "v", "type": "quantitative", "axis": null},
            "color": {"field": "s", "type": "nominal", "legend": null}
          }
        },
        {
          "data": {"name": "ann"},
          "transform": [{"filter": "datum.p == 'f' && datum.k == 'eta'"}],
          "mark": {"type": "text", "align": "left", "baseline": "middle", "fontSize": 10, "color": "#333"},
          "encoding": {"x": {"field": "x", "type": "quantitative", "axis": null}, "y": {"field": "y", "type": "quantitative", "axis": null}, "text": {"field": "t"}}
        },
        {
          "data": {"name": "ann"},
          "transform": [{"filter": "datum.p == 'f' && datum.k == 'pt'"}],
          "mark": {"type": "text", "align": "left", "baseline": "middle", "fontSize": 8.5, "color": "#333"},
          "encoding": {"x": {"field": "x", "type": "quantitative", "axis": null}, "y": {"field": "y", "type": "quantitative", "axis": null}, "text": {"field": "t"}}
        }
      ],
      "resolve": {"axis": {"x": "independent", "y": "independent"}}
    },
    {
      "width": 244, "height": 151,
      "data": {"name": "hist"},
      "transform": [
        {"filter": "datum.p == 'g'"},
        {"lookup": "b", "from": {"data": {"name": "bins"}, "key": "b", "fields": ["lo", "hi", "c"]}},
        {"fold": ["ep", "k2", "k4", "k10"], "as": ["s", "v"]}
      ],
      "layer": [
        {
          "mark": {"type": "line", "interpolate": "step-after", "clip": true, "strokeWidth": 1.6},
          "encoding": {
            "x": {"field": "lo", "type": "quantitative", "scale": {"type": "log", "domain": [0.05, 1], "nice": false},
              "axis": {"orient": "bottom", "values": [0.05, 0.06, 0.07, 0.08, 0.09, 0.1, 0.2, 0.3, 0.4, 0.5, 0.6, 0.7, 0.8, 0.9, 1], "labelExpr": "datum.value == 1 ? '1' : (datum.value == 0.05 || datum.value == 0.1 || datum.value == 0.5) ? format(datum.value, '.2f') : ''", "labelFlush": false, "labelOverlap": false, "title": "θ", "titleFontStyle": "italic", "titlePadding": 1}},
            "y": {"field": "v", "type": "quantitative", "scale": {"type": "log", "domain": [0.03, 6], "nice": false},
              "axis": {"orient": "left", "values": [0.04, 0.05, 0.06, 0.07, 0.08, 0.09, 0.1, 0.2, 0.3, 0.4, 0.5, 0.6, 0.7, 0.8, 0.9, 1, 2, 3, 4, 5], "labels": false, "title": null}},
            "color": {"field": "s", "type": "nominal", "scale": {"domain": ["ep", "k2", "k4", "k10"], "range": ["#f2c28f", "#8fb89f", "#4db6a6", "#1e4d5c"]},
              "legend": {"title": null, "legendX": 155, "legendY": 82, "labelExpr": "datum.label == 'ep' ? 'e + p' : datum.label == 'k2' ? 'e + ¹⁹⁷Au, K = 2' : datum.label == 'k4' ? 'e + ¹⁹⁷Au, K = 4' : 'e + ¹⁹⁷Au, K = 10'"}}
          }
        },
        {
          "mark": {"type": "rule", "clip": true, "strokeWidth": 1.6},
          "encoding": {
            "x": {"field": "lo", "type": "quantitative", "axis": {"orient": "top", "values": [0.05, 0.06, 0.07, 0.08, 0.09, 0.1, 0.2, 0.3, 0.4, 0.5, 0.6, 0.7, 0.8, 0.9, 1], "labels": false, "title": null}},
            "x2": {"field": "hi"},
            "y": {"field": "v", "type": "quantitative", "axis": {"orient": "right", "values": [0.04, 0.05, 0.06, 0.07, 0.08, 0.09, 0.1, 0.2, 0.3, 0.4, 0.5, 0.6, 0.7, 0.8, 0.9, 1, 2, 3, 4, 5], "labels": false, "title": null}},
            "color": {"field": "s", "type": "nominal", "legend": null}
          }
        },
        {
          "mark": {"type": "tick", "orient": "vertical", "clip": true, "size": 5, "thickness": 1.2},
          "encoding": {
            "x": {"field": "c", "type": "quantitative", "axis": null},
            "y": {"field": "v", "type": "quantitative", "axis": null},
            "color": {"field": "s", "type": "nominal", "legend": null}
          }
        },
        {
          "data": {"name": "ann"},
          "transform": [{"filter": "datum.p == 'g' && datum.k == 'eta'"}],
          "mark": {"type": "text", "align": "left", "baseline": "middle", "fontSize": 10, "color": "#333"},
          "encoding": {"x": {"field": "x", "type": "quantitative", "axis": null}, "y": {"field": "y", "type": "quantitative", "axis": null}, "text": {"field": "t"}}
        },
        {
          "data": {"name": "ann"},
          "transform": [{"filter": "datum.p == 'g' && datum.k == 'pt'"}],
          "mark": {"type": "text", "align": "left", "baseline": "middle", "fontSize": 8.5, "color": "#333"},
          "encoding": {"x": {"field": "x", "type": "quantitative", "axis": null}, "y": {"field": "y", "type": "quantitative", "axis": null}, "text": {"field": "t"}}
        }
      ],
      "resolve": {"axis": {"x": "independent", "y": "independent"}}
    }
  ],
  "config": {
    "view": {"stroke": "#a0a0a0", "strokeWidth": 1},
    "axis": {"domain": false, "grid": false, "tickSize": -4, "tickColor": "#8a8a8a", "tickWidth": 0.8, "labelFont": "Liberation Sans", "labelFontSize": 9, "labelColor": "#444", "labelPadding": 6, "titleFont": "Liberation Serif", "titleFontWeight": "normal", "titleFontSize": 16, "titleColor": "#222"},
    "legend": {"orient": "none", "symbolType": "stroke", "symbolStrokeWidth": 2, "symbolSize": 90, "labelFont": "Liberation Serif", "labelFontSize": 9, "labelColor": "#333", "rowPadding": 1.5, "labelOffset": 3, "padding": 0},
    "text": {"font": "Liberation Serif"}
  }
}
